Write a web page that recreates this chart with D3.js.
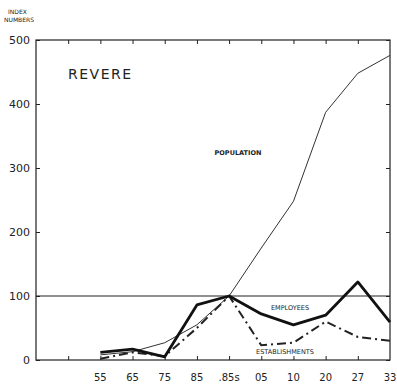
<!DOCTYPE html>
<html>
<head>
<meta charset="utf-8">
<script src="https://cdn.jsdelivr.net/npm/d3@7"></script>
<style>
body { margin: 0; background: #fff; }
text { font-family: "DejaVu Sans", sans-serif; fill: #222; }
</style>
</head>
<body>
<script>
var width = 397;
var height = 384;

// x slots: two blank slots before 55 (ticks only)
var slots = ["a", "b", "55", "65", "75", "85", "95", "05", "10", "20", "27", "33"];
var years = ["55", "65", "75", "85", "95", "05", "10", "20", "27", "33"];
var tickLabels = ["55", "65", "75", "85", ".85s", "05", "10", "20", "27", "33"];
var yTicks = [0, 100, 200, 300, 400, 500];

var population     = [8, 13, 27, 55, 100, 175, 248, 387, 448, 476];
var employees      = [12, 17, 5, 86, 100, 72, 55, 70, 122, 59];
var establishments = [2, 12, 6, 50, 100, 23, 27, 60, 36, 30];

var plotLeft = 36, plotRight = 390, plotTop = 40, plotBottom = 360;

var x = d3.scalePoint().domain(slots).range([plotLeft, plotRight]);
var y = d3.scaleLinear().domain([0, 500]).range([plotBottom, plotTop]);

var svg = d3.select("body").append("svg")
  .attr("width", width)
  .attr("height", height);

// frame
svg.append("rect")
  .attr("x", plotLeft).attr("y", plotTop)
  .attr("width", plotRight - plotLeft).attr("height", plotBottom - plotTop)
  .attr("fill", "none").attr("stroke", "#222").attr("stroke-width", 1.2);

// reference line at 100
svg.append("line")
  .attr("x1", plotLeft).attr("x2", plotRight)
  .attr("y1", y(100)).attr("y2", y(100))
  .attr("stroke", "#222").attr("stroke-width", 1.1);

// left axis
var yAxis = svg.append("g")
  .attr("transform", "translate(" + plotLeft + ",0)")
  .call(d3.axisRight(y).tickValues(yTicks).tickSize(4).tickFormat(""));
yAxis.select(".domain").remove();
svg.selectAll(".ylab")
  .data(yTicks)
  .enter().append("text")
  .attr("class", "ylab")
  .attr("x", 30)
  .attr("y", function(d) { return y(d) + 4; })
  .attr("text-anchor", "end")
  .style("font-size", "11px")
  .text(function(d) { return d; });

// right axis ticks
var yAxisR = svg.append("g")
  .attr("transform", "translate(" + plotRight + ",0)")
  .call(d3.axisLeft(y).tickValues(yTicks).tickSize(4).tickFormat(""));
yAxisR.select(".domain").remove();

// top ticks
var xTop = svg.append("g")
  .attr("transform", "translate(0," + plotTop + ")")
  .call(d3.axisBottom(x).tickValues(slots.slice(1, 11)).tickSize(4).tickFormat(""));
xTop.select(".domain").remove();

// bottom ticks
var xBot = svg.append("g")
  .attr("transform", "translate(0," + plotBottom + ")")
  .call(d3.axisTop(x).tickValues(slots.slice(1, 11)).tickSize(4).tickFormat(""));
xBot.select(".domain").remove();

svg.selectAll(".tick line").attr("stroke", "#222");

svg.selectAll(".xlab")
  .data(years)
  .enter().append("text")
  .attr("class", "xlab")
  .attr("x", function(d) { return x(d); })
  .attr("y", 381)
  .attr("text-anchor", "middle")
  .style("font-size", "10px")
  .text(function(d, i) { return tickLabels[i]; });

var line = d3.line()
  .x(function(d, i) { return x(years[i]); })
  .y(function(d) { return y(d); });

svg.append("path").datum(population)
  .attr("d", line).attr("fill", "none")
  .attr("stroke", "#333").attr("stroke-width", 1);

svg.append("path").datum(establishments)
  .attr("d", line).attr("fill", "none")
  .attr("stroke", "#222").attr("stroke-width", 2)
  .attr("stroke-dasharray", "9,4,2,4");

svg.append("path").datum(employees)
  .attr("d", line).attr("fill", "none")
  .attr("stroke", "#111").attr("stroke-width", 2.8)
  .attr("stroke-linejoin", "round");

// labels
svg.append("text").attr("x", 8).attr("y", 14)
  .style("font-size", "6px").text("INDEX");
svg.append("text").attr("x", 4).attr("y", 22)
  .style("font-size", "6px").text("NUMBERS");

svg.append("text").attr("x", 68).attr("y", 79)
  .style("font-size", "14px").style("letter-spacing", "1.5px").text("REVERE");

svg.append("text").attr("x", 238).attr("y", 155)
  .attr("text-anchor", "middle")
  .style("font-size", "6.5px").style("font-weight", "bold").text("POPULATION");
svg.append("text").attr("x", 290).attr("y", 310)
  .attr("text-anchor", "middle")
  .style("font-size", "6.5px").text("EMPLOYEES");
svg.append("text").attr("x", 285).attr("y", 354)
  .attr("text-anchor", "middle")
  .style("font-size", "6.5px").text("ESTABLISHMENTS");
</script>
</body>
</html>
